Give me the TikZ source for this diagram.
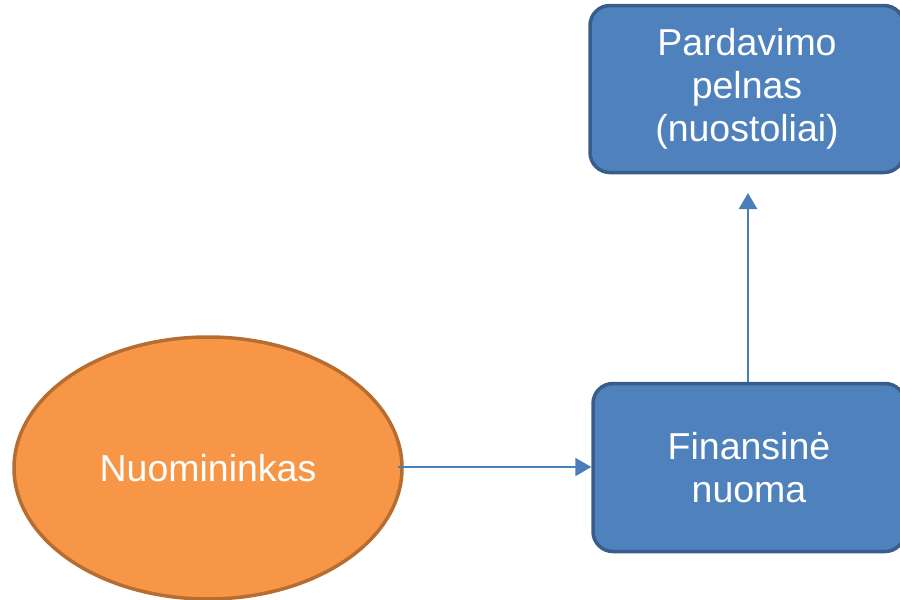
\documentclass[tikz,border=0pt]{standalone}
\usepackage{fontspec}
\setmainfont{Liberation Sans}
\usetikzlibrary{arrows.meta,shapes.geometric}
\definecolor{boxfill}{HTML}{4F81BD}
\definecolor{boxline}{HTML}{385D8A}
\definecolor{ovalfill}{HTML}{F79646}
\definecolor{ovalline}{HTML}{B66D31}
\definecolor{arrowcol}{HTML}{4A7EBB}
\tikzset{
  stepbox/.style={draw=boxline, fill=boxfill, line width=3.5pt, rounded corners=20pt,
    text=white, align=center, inner sep=0pt},
  party/.style={draw=ovalline, fill=ovalfill, line width=3.5pt, ellipse, text=white,
    inner sep=0pt},
  flow/.style={draw=arrowcol, line width=2.2pt, -{Triangle[length=16pt,width=18pt]}},
  lbl/.style={font=\fontsize{37.5}{43}\selectfont}
}
\begin{document}
\begin{tikzpicture}[x=1pt,y=-1pt]
  \useasboundingbox (0,0) rectangle (900,600);
  % lessor
  \node[party, minimum width=388pt, minimum height=262pt, lbl] (lessor) at (208,468) {Nuomininkas};
  % finance lease
  \node[stepbox, minimum width=312pt, minimum height=168pt, lbl] (lease) at (749,467.5)
    {Finansinė\\nuoma};
  % gain or loss on sale
  \node[stepbox, minimum width=314pt, minimum height=167pt, lbl] (gain) at (747,89)
    {Pardavimo\\pelnas\\(nuostoliai)};
  % connectors
  \coordinate (lstart) at (398,467);
  \draw[flow] (lstart) -- (lease.west |- lstart);
  \draw[flow] (lease.north -| 748,0) -- (748,193);
\end{tikzpicture}
\end{document}
